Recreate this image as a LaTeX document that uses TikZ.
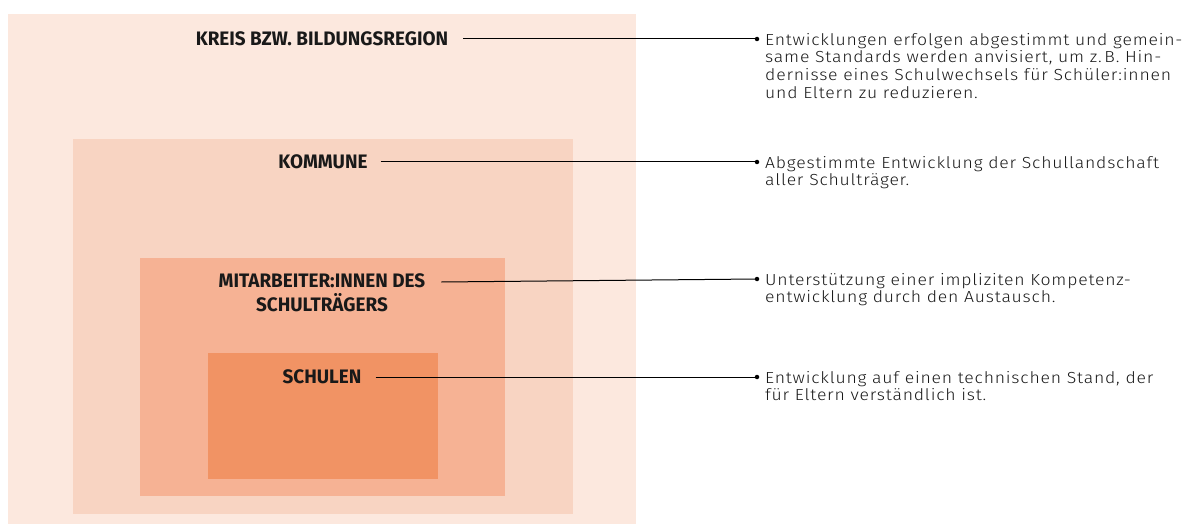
\documentclass[tikz,border=0pt]{standalone}
\usepackage{fontspec}
\setmainfont{Fira Sans}
\newfontfamily\labfont[FakeStretch=0.97]{Fira Sans Bold}
\newfontfamily\txtfont[FakeStretch=1.1,LetterSpace=5]{Fira Sans Light}
\definecolor{c1}{RGB}{252,232,222}
\definecolor{c2}{RGB}{248,212,194}
\definecolor{c3}{RGB}{246,178,148}
\definecolor{c4}{RGB}{241,147,100}
\begin{document}
\begin{tikzpicture}[x=1pt,y=-1pt,
  lab/.style={font=\labfont\fontsize{19.5}{22}\selectfont, inner sep=0pt, text=black!90},
  txt/.style={font=\txtfont\fontsize{16}{17.6}\selectfont, inner sep=0pt, anchor=north west, align=left, text=black!90},
  dot/.style={circle, fill=black, inner sep=0pt, minimum size=4.5pt},
  conn/.style={draw=black, line width=1pt}]
\useasboundingbox (0,0) rectangle (1186,524);
\fill[c1] (8,14) rectangle (636,524);
\fill[c2] (73,139) rectangle (573,514);
\fill[c3] (140,258) rectangle (505,496);
\fill[c4] (208,353) rectangle (438,479);
\node[lab] (kreis) at (322,39) {KREIS BZW. BILDUNGSREGION};
\node[lab] (kom) at (323,162) {KOMMUNE};
\node[lab] (mit1) at (322,281) {MITARBEITER:INNEN DES};
\node[lab] (mit2) at (322,303) {SCHULTRÄGERS};
\node[lab] (sch) at (322,377) {SCHULEN};
\node[dot] (d1) at (757,39) {};
\node[dot] (d2) at (757,162) {};
\node[dot] (d3) at (757,279) {};
\node[dot] (d4) at (757,377) {};
\draw[conn] ([xshift=15pt]kreis.east) -- (d1.center);
\draw[conn] ([xshift=13pt]kom.east) -- (d2.center);
\draw[conn] ([xshift=16pt,yshift=-1pt]mit1.east) -- (d3.center);
\draw[conn] ([xshift=14pt]sch.east) -- (d4.center);
\node[txt] (t1) at (765,33) {Entwicklungen erfolgen abgestimmt und gemein-\\same Standards werden anvisiert, um z.\,B. Hin-\\dernisse eines Schulwechsels für Schüler:innen\\und Eltern zu reduzieren.};
\node[txt] (t2) at (765,156) {Abgestimmte Entwicklung der Schullandschaft\\aller Schulträger.};
\node[txt] (t3) at (765,273) {Unterstützung einer impliziten Kompetenz-\\entwicklung durch den Austausch.};
\node[txt] (t4) at (765,371) {Entwicklung auf einen technischen Stand, der\\für Eltern verständlich ist.};
\end{tikzpicture}
\end{document}
